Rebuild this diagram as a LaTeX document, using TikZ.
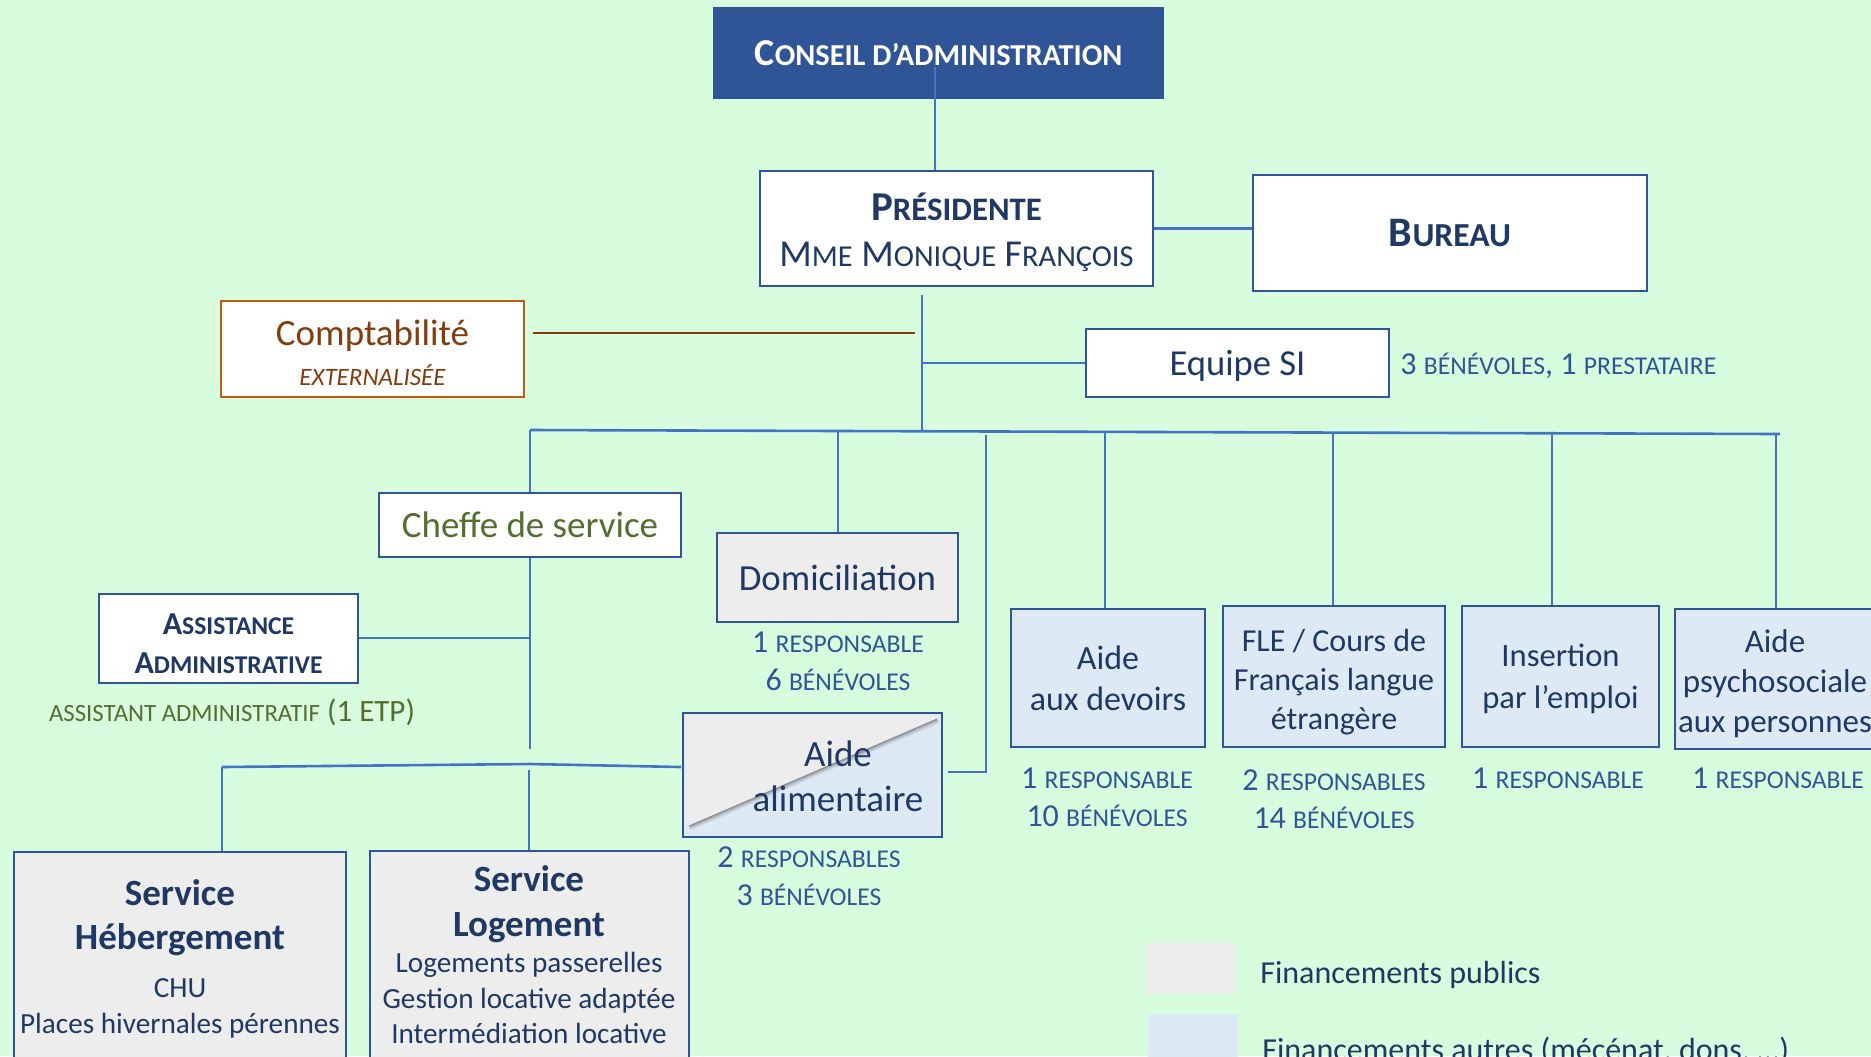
\documentclass[tikz,border=0pt]{standalone}
\usepackage{fontspec}
\setmainfont{Carlito}
\usetikzlibrary{calc}
\definecolor{bgc}{RGB}{216,253,222}
\definecolor{navy}{RGB}{31,56,100}
\definecolor{annblue}{RGB}{47,85,151}
\definecolor{bordc}{RGB}{47,85,151}
\definecolor{linec}{RGB}{68,114,196}
\definecolor{consf}{RGB}{47,85,151}
\definecolor{grayf}{RGB}{237,237,237}
\definecolor{bluef}{RGB}{222,233,246}
\definecolor{greent}{RGB}{84,110,46}
\definecolor{brownt}{RGB}{132,60,12}
\definecolor{orangeb}{RGB}{197,90,17}
\newcommand\smc[1]{\scalebox{0.8}{#1}}
\newcommand\fs[2]{\fontsize{#1}{#2}\selectfont}
\begin{document}
\begin{tikzpicture}[x=0.5pt,y=-0.5pt,
  box/.style={draw=bordc,line width=1pt,fill=white,inner sep=0pt,text=navy,align=center},
  conn/.style={draw=linec,line width=1.3pt},
  ann/.style={text=annblue,inner sep=0pt,align=center,font=\fs{16}{19}},
  txt/.style={inner sep=0pt,align=center,text=navy}]
\useasboundingbox (0,0) rectangle (1871,1056);
\fill[bgc] (0,0) rectangle (1871,1056);

% ---- top
\node[box,fill=consf,draw=consf,text=white,minimum width=224.5pt,minimum height=45pt,font=\bfseries\fs{19}{23}] (cons) at (938.5,53) {C\smc{ONSEIL D’ADMINISTRATION}};
\node[box,minimum width=196.5pt,minimum height=57.5pt] (pres) at (956.5,228.5) {};
\node[txt,font=\fs{19}{23}] (prestxt) at (956.5,232.5) {{\bfseries\fs{20.5}{23}P\smc{RÉSIDENTE}}\\M\smc{ME} M\smc{ONIQUE} F\smc{RANÇOIS}};
\node[box,minimum width=197pt,minimum height=58pt,font=\bfseries\fs{21}{25}] (bur) at (1450,233) {B\smc{UREAU}};

\node[box,draw=orangeb,minimum width=151.5pt,minimum height=48pt] (compta) at (372.5,349) {};
\node[txt,text=brownt,font=\fs{18.5}{20.2}] (comptatxt) at (372.5,353) {Comptabilité\\{\itshape\fs{12.5}{20.2}EXTERNALISÉE}};
\node[box,minimum width=151.5pt,minimum height=34pt] (equipe) at (1237.5,363) {};
\node[txt,font=\fs{18.3}{22}] (equipetxt) at (1237.5,365.5) {Equipe SI};
\node[ann,anchor=west] (equipeann) at (1400,366) {3 \smc{BÉNÉVOLES}, 1 \smc{PRESTATAIRE}};

% ---- middle
\node[box,text=greent,minimum width=151pt,minimum height=32pt,font=\fs{18.5}{22}] (cheffe) at (530,525) {Cheffe de service};
\node[box,minimum width=129.5pt,minimum height=44.5pt] (assist) at (228.5,638.5) {};
\node[txt,font=\bfseries\fs{16}{19.5}] (assisttxt) at (228.5,643.5) {A\smc{SSISTANCE}\\A\smc{DMINISTRATIVE}};
\node[txt,text=greent,font=\fs{15.5}{19}] (assistann) at (232,712) {\smc{ASSISTANT ADMINISTRATIF} (1 ETP)};

\node[box,fill=grayf,minimum width=120.5pt,minimum height=44.5pt,font=\fs{18.4}{22}] (domi) at (837.5,577.5) {Domiciliation};
\node[ann] (domiann) at (838,661) {1 \smc{RESPONSABLE}\\6 \smc{BÉNÉVOLES}};

\node[fill=bluef,inner sep=0pt,outer sep=0pt,minimum width=129.5pt,minimum height=62pt] (alim) at (812.5,775) {};
\fill[grayf] (685,715) -- (937,715) -- (937,719) -- (689,826) -- (685,826) -- cycle;
\begin{scope}
\clip (684,714) rectangle (941,836);
\foreach \k/\o in {0/0.4,1/0.28,2/0.18,3/0.1,4/0.05}
  \draw[black,opacity=\o,line width=0.5pt] (689+0.4*\k,826+\k) -- (937+0.4*\k,719+\k);
\end{scope}
\draw[bordc,line width=1pt] (alim.south west) rectangle (alim.north east);
\node[txt,font=\fs{18.5}{22.5}] (alimtxt) at (838,776.5) {Aide\\alimentaire};
\node[ann] (alimann) at (809,876) {2 \smc{RESPONSABLES}\\3 \smc{BÉNÉVOLES}};

\node[box,fill=bluef,minimum width=97pt,minimum height=69pt,font=\fs{17}{20.5}] (devoirs) at (1108,678) {Aide\\aux devoirs};
\node[ann] (devoirsann) at (1107,797) {1 \smc{RESPONSABLE}\\10 \smc{BÉNÉVOLES}};
\node[box,fill=bluef,minimum width=111pt,minimum height=70.5pt] (fle) at (1334,676.5) {};
\node[txt,font=\fs{16}{19.5}] (fletxt) at (1334,682.5) {FLE / Cours de\\Français langue\\étrangère};
\node[ann] (fleann) at (1334,799) {2 \smc{RESPONSABLES}\\14 \smc{BÉNÉVOLES}};
\node[box,fill=bluef,minimum width=98.5pt,minimum height=70.5pt] (insert) at (1560.5,676.5) {};
\node[txt,font=\fs{16.3}{21}] (inserttxt) at (1560.5,679) {Insertion\\par l’emploi};
\node[ann] (insertann) at (1558,778) {1 \smc{RESPONSABLE}};
\node[box,fill=bluef,minimum width=100pt,minimum height=70pt] (psy) at (1775,678.5) {};
\node[txt,font=\fs{16.5}{20}] (psytxt) at (1775,683.3) {Aide\\psychosociale\\aux personnes};
\node[ann] (psyann) at (1778,778) {1 \smc{RESPONSABLE}};

% ---- bottom services
\node[box,fill=grayf,minimum width=166pt,minimum height=106pt] (heb) at (180,958) {};
\node[txt,font=\fs{14.6}{18}] (hebtxt) at (180,958.4) {{\bfseries\fs{18.5}{22}Service}\\[4pt]{\bfseries\fs{18.5}{22}Hébergement}\\[6pt]CHU\\Places hivernales pérennes};
\node[box,fill=grayf,minimum width=159.5pt,minimum height=107pt] (log) at (529.5,958) {};
\node[txt,font=\fs{14.6}{17.5}] (logtxt) at (529,954.5) {{\bfseries\fs{18.5}{22}Service}\\[5pt]{\bfseries\fs{18.5}{22}Logement}\\[0.5pt]Logements passerelles\\[0.5pt]Gestion locative adaptée\\Intermédiation locative};

% ---- legend
\node[fill=grayf,minimum width=44.5pt,minimum height=25.5pt,inner sep=0pt] (legpub) at (1190.5,968.5) {};
\node[anchor=west,inner sep=0pt,text=navy,font=\fs{16}{19}] (legpubt) at (1260,975) {Financements publics};
\node[fill=bluef,minimum width=45pt,minimum height=26pt,inner sep=0pt] (legaut) at (1192.5,1040) {};
\node[anchor=west,inner sep=0pt,text=navy,font=\fs{16}{19}] (legautt) at (1262,1051) {Financements autres (mécénat, dons, …)};

% ---- connectors
\coordinate (c0) at (935,67);
\draw[conn] (c0) -- (c0 |- pres.north);
\draw[conn] (pres.east) -- (pres.east -| bur.west);
\coordinate (sp0) at (922,295);
\coordinate (sp1) at (922,432);
\draw[conn] (sp0) -- (sp1);
\coordinate (spe) at (922,363);
\draw[conn] (spe) -- (equipe.west);
\coordinate (br0) at (533,333);
\coordinate (br1) at (915,333);
\draw[draw=brownt,line width=1.3pt] (br0) -- (br1);

\coordinate (barL) at (530,430);
\coordinate (barR) at (1780,434);
\draw[conn] (barL) -- (barR);
\draw[conn] (barL) -- (barL |- cheffe.north);
\coordinate (bDomi) at (838,432);
\draw[conn] (bDomi) -- (bDomi |- domi.north);
\coordinate (bAlim) at (986,435);
\coordinate (bAlim2) at (986,772);
\draw[conn] (bAlim) -- (bAlim2) -- (948,772);
\coordinate (bDev) at (1105,432);
\draw[conn] (bDev) -- (bDev |- devoirs.north);
\coordinate (bFle) at (1333,433);
\draw[conn] (bFle) -- (bFle |- fle.north);
\coordinate (bIns) at (1552,433);
\draw[conn] (bIns) -- (bIns |- insert.north);
\coordinate (bPsy) at (1776,434);
\draw[conn] (bPsy) -- (bPsy |- psy.north);

\coordinate (chS) at (530,749);
\draw[conn] (cheffe.south) -- (chS);
\coordinate (asR) at (530,638);
\draw[conn] (assist.east |- asR) -- (asR);

\coordinate (lbL) at (222,767);
\coordinate (lbM) at (530,764);
\coordinate (lbR) at (681,767);
\draw[conn] (lbL) -- (lbM) -- (lbR);
\draw[conn] (lbL) -- (lbL |- heb.north);
\coordinate (lbM2) at (529,770);
\draw[conn] (lbM2) -- (lbM2 |- log.north);
\end{tikzpicture}
\end{document}
